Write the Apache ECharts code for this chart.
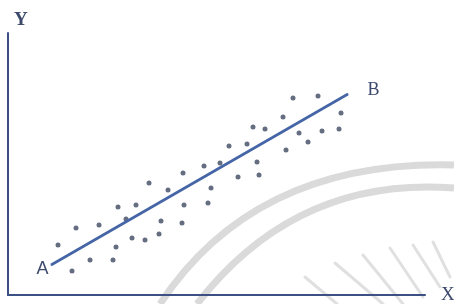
<!DOCTYPE html>
<html>
<head>
<meta charset="utf-8">
<script src="https://cdn.jsdelivr.net/npm/echarts@6/dist/echarts.min.js"></script>
<style>html,body{margin:0;padding:0;background:#fff}#c{width:454px;height:304px}</style>
</head>
<body>
<div id="c"></div>
<script>
// Scatter observations (x, y)
const scatterX = [50,64,68,82,91,105,108,110,118,124,128,137,141,151,153,160,174,175,176,196,200,203,212,221,230,239,245,249,251,257,275,278,285,291,300,310,314,331,333];
const scatterY = [50,24,67,35,70,35,48,88,76,57,90,55,112,61,74,105,72,122,90,129,92,107,132,149,118,151,168,133,120,166,178,145,197,162,153,199,164,166,182];
// Regression line end points A and B
const lineX = [43, 340];
const lineY = [30, 201];
const lineLabels = ['A', 'B'];
const axisNames = ['X', 'Y'];

const chart = echarts.init(document.getElementById('c'));
const axisColor = '#3b5183';
const textColor = '#3d4a6c';
const wm = '#dadada';
const spokes = [[305,277,337,304],[335,263,383,304],[363,255,403,304],[390,248,423,297],[413,245,440,287],[433,242,450,277]];
const graphics = [
  {type:'bezierCurve', z:-10, silent:true, shape:{x1:160,y1:304,x2:454,y2:165,cpx1:255,cpy1:160}, style:{stroke:wm,lineWidth:7,fill:null}},
  {type:'bezierCurve', z:-10, silent:true, shape:{x1:197,y1:304,x2:454,y2:188,cpx1:296,cpy1:176}, style:{stroke:wm,lineWidth:7,fill:null}}
];
spokes.forEach(s => graphics.push({type:'line', z:-10, silent:true, shape:{x1:s[0],y1:s[1],x2:s[2],y2:s[3]}, style:{stroke:'#e0e0e0',lineWidth:3,lineCap:'round'}}));

chart.setOption({
  animation: false,
  backgroundColor: '#fff',
  grid: {left: 8, right: 29, top: 33, bottom: 9, containLabel: false, outerBoundsMode: 'none'},
  xAxis: {
    type: 'value', min: 0, max: 417,
    name: axisNames[0], nameLocation: 'end', nameGap: 16,
    nameTextStyle: {fontFamily: 'Liberation Serif', fontSize: 19, color: textColor, verticalAlign: 'middle', align: 'left'},
    axisLine: {show: true, lineStyle: {color: axisColor, width: 2}},
    axisTick: {show: false}, axisLabel: {show: false}, splitLine: {show: false}
  },
  yAxis: {
    type: 'value', min: 0, max: 262,
    name: axisNames[1], nameLocation: 'end', nameGap: 3,
    nameTextStyle: {fontFamily: 'Liberation Serif', fontSize: 19, fontWeight: 'bold', color: textColor, align: 'left', padding: [0,0,0,6]},
    axisLine: {show: true, lineStyle: {color: axisColor, width: 2}},
    axisTick: {show: false}, axisLabel: {show: false}, splitLine: {show: false}
  },
  graphic: graphics,
  series: [
    {
      type: 'scatter',
      data: scatterX.map((x, i) => [x, scatterY[i]]),
      symbol: 'circle', symbolSize: 5,
      itemStyle: {color: '#3f4860'}
    },
    {
      type: 'line',
      data: lineX.map((x, i) => ({
        value: [x, lineY[i]],
        label: {
          show: true, formatter: lineLabels[i],
          position: i === 0 ? 'left' : 'right',
          distance: i === 0 ? 3 : 19,
          offset: i === 0 ? [1, 4] : [0, -4],
          fontFamily: i === 0 ? 'Liberation Sans' : 'Liberation Serif',
          fontSize: 18, color: textColor
        }
      })),
      symbol: 'circle', symbolSize: 1, showSymbol: true,
      itemStyle: {color: '#4565a6'},
      lineStyle: {color: '#4565a6', width: 2.6}
    }
  ]
});
</script>
</body>
</html>
